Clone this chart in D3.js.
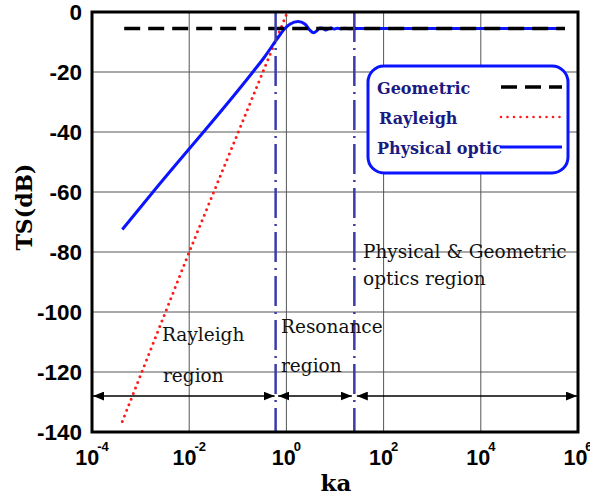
<!DOCTYPE html>
<html>
<head>
<meta charset="utf-8">
<script src="https://cdn.jsdelivr.net/npm/d3@7"></script>
<style>
  body { margin: 0; background: #fff; }
</style>
</head>
<body>
<div id="chart"></div>
<script>
var w = 590;
var h = 498;

// axis ticks
var xTicks = [1e-4, 1e-2, 1, 1e2, 1e4, 1e6];
var xExp = ["-4", "-2", "0", "2", "4", "6"];
var yTicks = [0, -20, -40, -60, -80, -100, -120, -140];

// curves (ka, TS in dB)
var geoKa = [4.6e-4, 5.4e5];
var geoTS = [-5.5, -5.5];

var rayKa = [4.2e-4, 1e-2, 1.02];
var rayTS = [-136.5, -80, -0.5];

var poKa = [4.2e-4, 1.8e-3, 0.204, 0.355, 0.525, 0.708, 0.891, 1.2, 1.74, 2.4,
  3.02, 3.63, 4.27, 4.9, 5.62, 6.31, 7.24, 8.32, 9.55, 11.2, 13.2, 15.8, 20, 28.2, 5.4e5];
var poTS = [-72.5, -60, -20, -15, -11, -8, -5.8, -4.0, -3.2, -4.0,
  -6.0, -6.9, -6.2, -5.3, -5.4, -6.0, -5.6, -5.3, -5.7, -5.4, -5.6, -5.45, -5.55, -5.5, -5.5];

// region borders and arrows
var borders = [0.6, 25];
var arrowTS = -128;
var legendNames = ["Geometric", "Rayleigh", "Physical optic"];

var margin = { left: 92, top: 12, right: 12, bottom: 66 };
var x = d3.scaleLog().domain([1e-4, 1e6]).range([margin.left, w - margin.right]);
var y = d3.scaleLinear().domain([-140, 0]).range([h - margin.bottom, margin.top]);

var svg = d3.select("#chart").append("svg").attr("width", w).attr("height", h);

var defs = svg.append("defs");
defs.append("marker")
  .attr("id", "arr")
  .attr("viewBox", "0 0 10 8")
  .attr("refX", 10)
  .attr("refY", 4)
  .attr("markerWidth", 11)
  .attr("markerHeight", 9)
  .attr("markerUnits", "userSpaceOnUse")
  .attr("orient", "auto-start-reverse")
  .append("path")
  .attr("d", "M0,0L10,4L0,8Z")
  .attr("fill", "#000");

// grid
svg.append("g")
  .selectAll("line")
  .data(xTicks.slice(1, -1))
  .enter()
  .append("line")
  .attr("x1", function (d) { return x(d); })
  .attr("x2", function (d) { return x(d); })
  .attr("y1", y(0))
  .attr("y2", y(-140))
  .attr("stroke", "#555")
  .attr("stroke-width", 1);

svg.append("g")
  .selectAll("line")
  .data(yTicks.slice(1, -1))
  .enter()
  .append("line")
  .attr("x1", x(1e-4))
  .attr("x2", x(1e6))
  .attr("y1", function (d) { return y(d); })
  .attr("y2", function (d) { return y(d); })
  .attr("stroke", "#555")
  .attr("stroke-width", 1);

function pts(ka, ts) {
  return ka.map(function (d, i) { return [d, ts[i]]; });
}

var line = d3.line()
  .x(function (d) { return x(d[0]); })
  .y(function (d) { return y(d[1]); });

// Rayleigh (red dotted)
svg.append("path")
  .attr("d", line(pts(rayKa, rayTS)))
  .attr("fill", "none")
  .attr("stroke", "#ff1a1a")
  .attr("stroke-width", 3)
  .attr("stroke-linecap", "round")
  .attr("stroke-dasharray", "0 6");

// Physical optic (blue)
svg.append("path")
  .attr("d", line.curve(d3.curveMonotoneX)(pts(poKa, poTS)))
  .attr("fill", "none")
  .attr("stroke", "#0a14ff")
  .attr("stroke-width", 3);
line.curve(d3.curveLinear);

// Geometric (black dashed)
svg.append("path")
  .attr("d", line(pts(geoKa, geoTS)))
  .attr("fill", "none")
  .attr("stroke", "#000")
  .attr("stroke-width", 3.5)
  .attr("stroke-dasharray", "16 8");

// region borders
svg.append("g")
  .selectAll("line")
  .data(borders)
  .enter()
  .append("line")
  .attr("x1", function (d) { return x(d); })
  .attr("x2", function (d) { return x(d); })
  .attr("y1", y(0))
  .attr("y2", y(-140))
  .attr("stroke", "#3c3ca8")
  .attr("stroke-width", 2.5)
  .attr("stroke-dasharray", "30 6 2 6");

// arrows between regions
var edges = [1e-4].concat(borders).concat([1e6]);
var gaps = [[0, 0], [1.5, 1.5], [1.5, 0]];
svg.append("g")
  .selectAll("line")
  .data(d3.range(edges.length - 1))
  .enter()
  .append("line")
  .attr("x1", function (i) { return x(edges[i]) + gaps[i][0] + 1; })
  .attr("x2", function (i) { return x(edges[i + 1]) - gaps[i][1] - 1; })
  .attr("y1", y(arrowTS))
  .attr("y2", y(arrowTS))
  .attr("stroke", "#000")
  .attr("stroke-width", 1.6)
  .attr("marker-start", "url(#arr)")
  .attr("marker-end", "url(#arr)");

// frame
svg.append("rect")
  .attr("x", x(1e-4))
  .attr("y", y(0))
  .attr("width", x(1e6) - x(1e-4))
  .attr("height", y(-140) - y(0))
  .attr("fill", "none")
  .attr("stroke", "#000")
  .attr("stroke-width", 3);

// y tick labels
svg.append("g")
  .selectAll("text")
  .data(yTicks)
  .enter()
  .append("text")
  .attr("x", x(1e-4) - 10)
  .attr("y", function (d) { return y(d) + 8; })
  .attr("text-anchor", "end")
  .attr("font-family", "Liberation Sans, Arial, sans-serif")
  .attr("font-weight", "bold")
  .attr("font-size", "22.5px")
  .text(function (d) { return d; });

// x tick labels 10^n
var xl = svg.append("g")
  .selectAll("text")
  .data(xTicks)
  .enter()
  .append("text")
  .attr("x", function (d) { return x(d); })
  .attr("y", 465)
  .attr("text-anchor", "middle")
  .attr("font-family", "Liberation Sans, Arial, sans-serif")
  .attr("font-weight", "bold")
  .attr("font-size", "21.5px");
xl.append("tspan").text("10");
xl.append("tspan")
  .attr("dx", -2)
  .attr("dy", -14)
  .attr("font-size", "13px")
  .text(function (d, i) { return xExp[i]; });

// axis titles
svg.append("text")
  .attr("transform", "translate(32," + 207 + ") rotate(-90)")
  .attr("text-anchor", "middle")
  .attr("font-family", "DejaVu Serif, serif")
  .attr("font-weight", "bold")
  .attr("font-size", "22px")
  .text("TS(dB)");

svg.append("text")
  .attr("x", 336)
  .attr("y", 491)
  .attr("text-anchor", "middle")
  .attr("font-family", "DejaVu Serif, serif")
  .attr("font-weight", "bold")
  .attr("font-size", "23px")
  .text("ka");

// region annotations
var notes = [
  { t: "Rayleigh", x: 162, y: 341 },
  { t: "region", x: 163, y: 382 },
  { t: "Resonance", x: 281, y: 333 },
  { t: "region", x: 281, y: 372 },
  { t: "Physical & Geometric", x: 363, y: 258 },
  { t: "optics region", x: 363, y: 285 }
];
svg.append("g")
  .selectAll("text")
  .data(notes)
  .enter()
  .append("text")
  .attr("x", function (d) { return d.x; })
  .attr("y", function (d) { return d.y; })
  .attr("font-family", "DejaVu Serif, serif")
  .attr("font-size", "18.5px")
  .attr("fill", "#111")
  .text(function (d) { return d.t; });

// legend
var lg = svg.append("g");
lg.append("rect")
  .attr("x", 368)
  .attr("y", 66)
  .attr("width", 200)
  .attr("height", 107)
  .attr("rx", 16)
  .attr("fill", "#fff")
  .attr("stroke", "#0a14ff")
  .attr("stroke-width", 3);

var legY = [87, 117, 147];
var legStyle = [
  { c: "#000", sw: 3.5, da: "16 8", cap: "butt" },
  { c: "#ff1a1a", sw: 2.6, da: "0 6.5", cap: "round" },
  { c: "#0a14ff", sw: 3, da: null, cap: "butt" }
];
lg.selectAll("text")
  .data(legendNames)
  .enter()
  .append("text")
  .attr("x", function (d, i) { return i === 1 ? 379 : 377; })
  .attr("y", function (d, i) { return legY[i] + 7; })
  .attr("font-family", "DejaVu Serif, serif")
  .attr("font-weight", "bold")
  .attr("font-size", "16px")
  .attr("fill", "#1a1a80")
  .text(function (d) { return d; });

lg.selectAll("line")
  .data(legendNames)
  .enter()
  .append("line")
  .attr("x1", function (d, i) { return i === 2 ? 500 : 501; })
  .attr("x2", 562)
  .attr("y1", function (d, i) { return legY[i]; })
  .attr("y2", function (d, i) { return legY[i]; })
  .attr("stroke", function (d, i) { return legStyle[i].c; })
  .attr("stroke-width", function (d, i) { return legStyle[i].sw; })
  .attr("stroke-linecap", function (d, i) { return legStyle[i].cap; })
  .attr("stroke-dasharray", function (d, i) { return legStyle[i].da; });
</script>
</body>
</html>
